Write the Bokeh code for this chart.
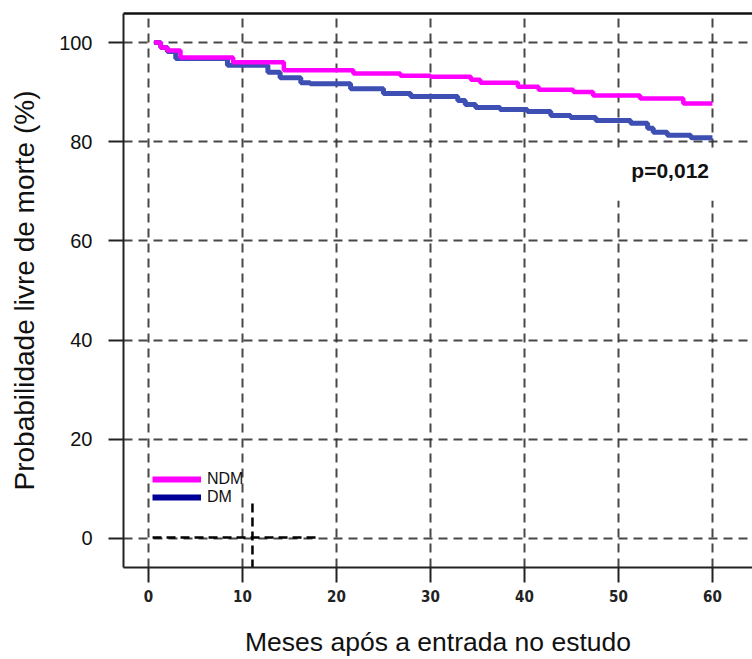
from bokeh.plotting import figure
from bokeh.models import (Range1d, FixedTicker, LinearAxis, Legend, LegendItem,
                          Label, BoxAnnotation)
from bokeh.embed import file_html
from bokeh.resources import INLINE

# ---- data ----
ndm_t = [0.6, 1.3, 2.0, 3.4, 9.0, 14.4, 21.8, 26.8, 30.0, 34.3, 35.3, 39.3, 41.5,
         45.2, 47.3, 52.3, 56.9, 60.0]
ndm_s = [100.0, 99.0, 98.4, 97.0, 96.0, 94.4, 93.75, 93.3, 93.1, 92.5, 91.9, 91.1, 90.5,
         90.0, 89.3, 88.7, 87.7, 87.7]

dm_t = [0.6, 1.3, 2.0, 2.9, 8.4, 12.7, 14.0, 16.2, 17.2, 21.5, 25.0, 27.9, 32.9,
        33.7, 34.8, 37.4, 40.3, 42.8, 44.9, 47.6, 51.3, 53.1, 53.7, 55.2, 57.7, 60.0]
dm_s = [100.0, 99.0, 98.2, 96.8, 95.4, 94.0, 92.9, 91.9, 91.7, 90.7, 89.7, 89.1, 88.3,
        87.5, 86.9, 86.5, 86.1, 85.3, 84.9, 84.3, 83.7, 82.7, 81.9, 81.3, 80.8, 80.8]

x_ticks = [0, 10, 20, 30, 40, 50, 60]
y_ticks = [0, 20, 40, 60, 80, 100]
series_names = ["NDM", "DM"]
p_text = "p=0,012"

# stray dashed strokes visible in the original figure (data units)
stray_h_x = [0.43, 17.8]
stray_h_y = [0.2, 0.2]
stray_v_x = [11.06, 11.06]
stray_v_y = [7.06, -5.85]

nan = float("nan")

p = figure(width=752, height=659, output_backend="svg", toolbar_location=None,
           x_range=Range1d(-2.66, 64.26), y_range=Range1d(-5.85, 105.85),
           min_border_left=123, min_border_right=0, min_border_top=13,
           min_border_bottom=92)
p.outline_line_color = None
p.background_fill_color = "white"
p.border_fill_color = "white"

# grid
for g, t in ((p.xgrid, x_ticks), (p.ygrid, y_ticks)):
    g.ticker = FixedTicker(ticks=t)
    g.grid_line_color = "#333333"
    g.grid_line_width = 2
    g.grid_line_dash = "9 6"
    g.grid_line_alpha = 0.9

# axes
p.xaxis.ticker = FixedTicker(ticks=x_ticks)
p.yaxis.ticker = FixedTicker(ticks=y_ticks)
for ax in (p.xaxis[0], p.yaxis[0]):
    ax.axis_line_width = 2
    ax.axis_line_color = "#222222"
    ax.major_tick_line_width = 2
    ax.major_tick_line_color = "#222222"
    ax.major_tick_out = 15
    ax.major_tick_in = 0
    ax.minor_tick_line_color = None
    ax.axis_label_text_font = "Liberation Sans"
    ax.axis_label_text_font_style = "normal"
    ax.axis_label_text_color = "#111111"

p.xaxis.axis_label = "Meses após a entrada no estudo"
p.yaxis.axis_label = "Probabilidade livre de morte (%)"
p.xaxis.axis_label_text_font_size = "26.5px"
p.yaxis.axis_label_text_font_size = "28px"
p.xaxis.major_label_text_font = "DejaVu Sans Condensed, DejaVu Sans Mono"
p.xaxis.major_label_text_font_size = "15px"
p.xaxis.major_label_text_font_style = "bold"
p.xaxis.major_label_text_color = "#222222"
p.xaxis.major_label_standoff = 7
p.xaxis.axis_label_standoff = 22
p.yaxis.major_label_text_font = "Liberation Sans"
p.yaxis.major_label_text_font_size = "20px"
p.yaxis.major_label_text_color = "#111111"
p.yaxis.major_label_standoff = 16
p.yaxis.axis_label_standoff = 16

top_axis = LinearAxis(ticker=FixedTicker(ticks=[]), axis_line_width=2.5,
                      axis_line_color="#111111", major_label_text_font_size="0px",
                      major_tick_line_color=None, minor_tick_line_color=None)
p.add_layout(top_axis, "above")

# white box behind p-value
p.add_layout(BoxAnnotation(left=49.4, right=60.6, bottom=68.1, top=78.2,
                           fill_color="white", fill_alpha=1.0, line_color=None))

# curves
p.step(dm_t, dm_s, mode="after", line_color="#3d4fb2", line_width=5)
p.step(ndm_t, ndm_s, mode="after", line_color="#ff00ff", line_width=4.5)

# stray dashed strokes
p.line(stray_h_x, stray_h_y, line_color="black", line_width=2.5, line_dash="9 5")
p.line(stray_v_x, stray_v_y, line_color="black", line_width=2.5, line_dash="9 5")

# legend (off-screen NaN renderers carry the legend styles)
r_ndm = p.line([nan], [nan], line_color="#ff00ff", line_width=6)
r_dm = p.line([nan], [nan], line_color="#000099", line_width=6)
legend = Legend(items=[LegendItem(label=series_names[0], renderers=[r_ndm]),
                       LegendItem(label=series_names[1], renderers=[r_dm])],
                location=(29, 61), padding=0, margin=0, spacing=0,
                glyph_width=49, glyph_height=18, label_height=18, label_standoff=6,
                label_text_font="Liberation Sans", label_text_font_size="16px",
                label_text_color="#111111", border_line_color=None,
                background_fill_alpha=0)
p.add_layout(legend)

p.add_layout(Label(x=55.5, y=74.2, text=p_text, text_align="center",
                   text_baseline="middle", text_font="Liberation Sans",
                   text_font_size="21px", text_font_style="bold",
                   text_color="#111111"))

open("out.html", "w").write(file_html(p, INLINE))
